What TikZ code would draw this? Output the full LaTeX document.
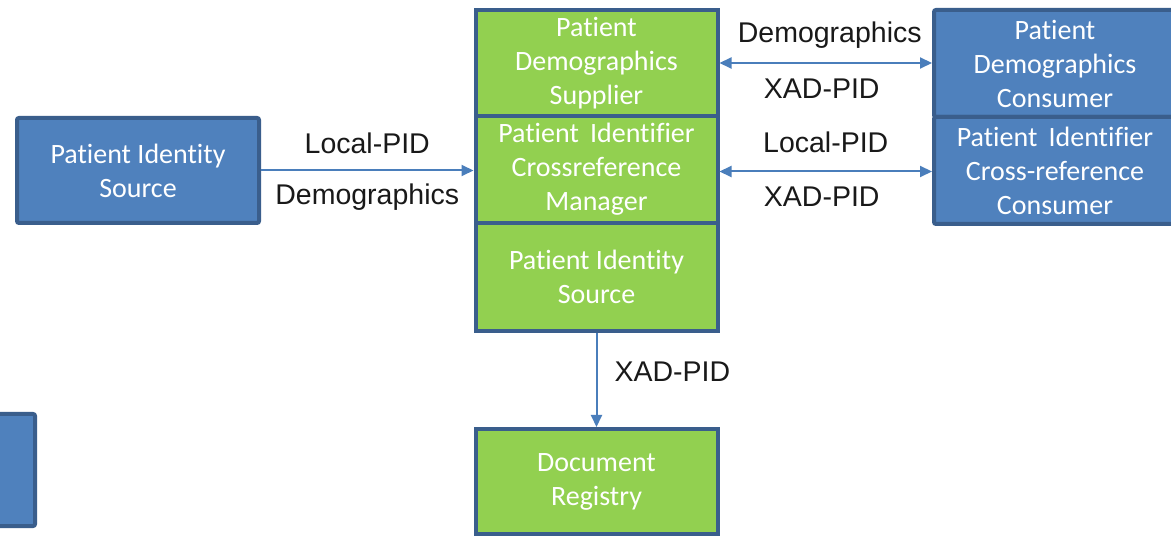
\documentclass[tikz,border=0pt]{standalone}
\usepackage{fontspec}
\setmainfont{Carlito}[Ligatures={NoCommon}]
\newfontfamily\lblfont{Liberation Sans}
\usetikzlibrary{arrows.meta}
\definecolor{boxblue}{HTML}{4F81BD}
\definecolor{boxgreen}{HTML}{92D050}
\definecolor{edgeblue}{HTML}{3A5E8C}
\definecolor{arrowblue}{HTML}{4A7EBB}
\begin{document}
\begin{tikzpicture}[x=1pt,y=-1pt,
  actor/.style={draw=edgeblue, line width=4pt, minimum width=242pt, align=center,
    text=white, font=\fontsize{28}{34}\selectfont, inner sep=0pt},
  bluebox/.style={actor, fill=boxblue, rounded corners=2pt},
  greenbox/.style={actor, fill=boxgreen},
  lbl/.style={font=\lblfont\fontsize{28.5}{34}\selectfont, text=black!90, inner sep=0pt},
  conn/.style={draw=arrowblue, line width=2pt, -{Triangle[length=12pt,width=11pt]}},
  dconn/.style={draw=arrowblue, line width=2pt, {Triangle[length=12pt,width=11pt]}-{Triangle[length=12pt,width=11pt]}}]
\useasboundingbox (0,0) rectangle (1171,537);
\fill[white] (0,0) rectangle (1171,537);
\begin{scope}
\clip (0,0) rectangle (1171,537);
% left
\node[bluebox, minimum height=105pt] (pis0) at (138,170.5) {Patient Identity\\Source};
\node[bluebox, minimum height=112pt] (part) at (-86,470) {};
% center column
\node[greenbox, minimum height=106pt] (pds) at (596.5,63) {Patient\\Demographics\\Supplier};
\node[greenbox, minimum height=107pt] (pixm) at (596.5,169.5) {Patient\hspace{0.4em}Identifier\\Crossreference\\Manager};
\node[greenbox, minimum height=108pt] (pis) at (596.5,277) {Patient Identity\\Source};
\node[greenbox, minimum height=105pt] (reg) at (596.5,481.5) {Document\\Registry};
% right column
\node[bluebox, minimum height=107pt] (pdc) at (1055,63.5) {Patient\\Demographics\\Consumer};
\node[bluebox, minimum height=107pt] (pixc) at (1055,170.5) {Patient\hspace{0.4em}Identifier\\Cross-reference\\Consumer};
\end{scope}
% connectors
\draw[conn] (pis0.east) -- (pis0.east -| pixm.west)
  node[midway, lbl, yshift=27pt] (l1) {Local-PID}
  node[midway, lbl, yshift=-27pt] (l2) {Demographics};
\draw[dconn] (pds.east) -- (pds.east -| pdc.west)
  node[midway, lbl, xshift=4pt, yshift=28pt] (l3) {Demographics}
  node[midway, lbl, xshift=-4pt, yshift=-26pt] (l4) {XAD-PID};
\draw[dconn] ([yshift=-2pt]pixm.east) -- ([yshift=-2pt]pixm.east -| pixc.west)
  node[midway, lbl, yshift=29pt] (l5) {Local-PID}
  node[midway, lbl, xshift=-4pt, yshift=-25pt] (l6) {XAD-PID};
\draw[conn] (pis.south) -- (reg.north)
  node[midway, lbl, anchor=west, xshift=17pt, yshift=8pt] (l7) {XAD-PID};
\end{tikzpicture}
\end{document}
